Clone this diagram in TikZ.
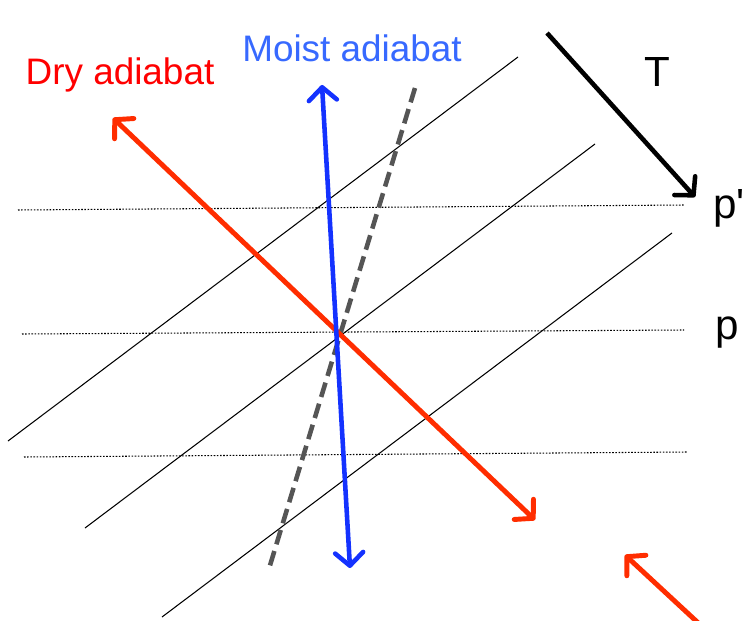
\documentclass[tikz,border=0pt]{standalone}
\usepackage{fontspec}
\setmainfont{Liberation Sans}[Ligatures=TeXOff]
\usetikzlibrary{arrows.meta}
\definecolor{dryred}{RGB}{255,45,0}
\definecolor{moistblue}{RGB}{20,50,255}
\definecolor{moisttext}{RGB}{55,105,255}
\definecolor{satgray}{RGB}{85,85,85}

\begin{document}
\begin{tikzpicture}[x=0.02cm, y=-0.02cm, >={Straight Barb[length=2.6mm, width=5.6mm, round]}, iso/.style={black, line width=0.6pt}, bar/.style={black, line width=0.6pt, dash pattern=on 0.9pt off 0.9pt}, dry/.style={dryred, line width=2.8pt}, moist/.style={moistblue, line width=2.6pt}, sat/.style={satgray, line width=2.6pt, dash pattern=on 0.3cm off 0.14cm}, lbl/.style={font=\fontsize{21}{25}\selectfont, inner sep=0pt}, big/.style={font=\fontsize{24}{28}\selectfont, inner sep=0pt}]
	\clip (0,0) rectangle (746,621);
	% isotherms
	\foreach \k/\ox/\oy in {1/0/0, 2/77/87, 3/154/176} {
		\coordinate (t\k w) at ({8+\ox},{441+\oy}); \coordinate (t\k e) at ({518+\ox},{57+\oy});
		\draw[iso] (t\k w) -- (t\k e);
	}
	% isobars
	\coordinate (b1w) at (18,210); \coordinate (b1e) at (685,205);
	\coordinate (b2w) at (22,334); \coordinate (b2e) at (684,330);
	\coordinate (b3w) at (24,457); \coordinate (b3e) at (688,452);
	\foreach \k in {1,2,3} {\draw[bar] (b\k w) -- (b\k e);}
	% adiabats
	\coordinate (sat1) at (415,88); \coordinate (sat2) at (268,572);
	\draw[sat] (sat1) -- (sat2);
	\coordinate (dry1) at (113,118); \coordinate (dry2) at (535,520);
	\draw[dry, <->] (dry1) -- (dry2);
	\coordinate (moist1) at (322,85); \coordinate (moist2) at (350,568);
	\draw[moist, <->] (moist1) -- (moist2);
	\coordinate (dry3) at (708,632); \coordinate (dry4) at (625,555);
	\draw[dry, ->] (dry3) -- (dry4);
	\coordinate (tw) at (547,33); \coordinate (te) at (695,197);
	\draw[black, line width=2.6pt, ->] (tw) -- (te);
	% labels
	\node[lbl, text=red] (drylbl) at (120,75) {Dry adiabat};
	\node[lbl, text=moisttext] (moistlbl) at (352,48) {Moist adiabat};
	\node[big] (tlbl) at (657,72) {T};
	\node[big] (pplbl) at (729,208) {p'};
	\node[big] (plbl) at (727,333) {p};
\end{tikzpicture}
\end{document}
